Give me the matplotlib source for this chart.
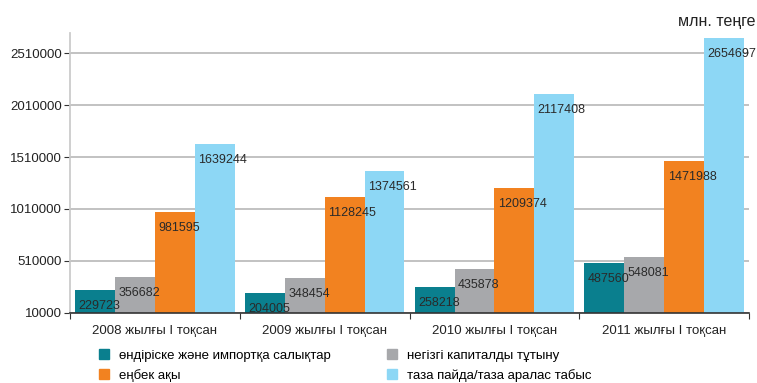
import numpy as np
import matplotlib.pyplot as plt
from matplotlib.patches import Patch

plt.rcParams['font.family'] = ['Liberation Sans', 'DejaVu Sans']

# данные
categories = ['2008 жылғы I тоқсан', '2009 жылғы I тоқсан',
              '2010 жылғы I тоқсан', '2011 жылғы I тоқсан']
series_names = ['өндіріске және импортқа салықтар', 'негізгі капиталды тұтыну',
                'еңбек ақы', 'таза пайда/таза аралас табыс']
taxes = [229723, 204005, 258218, 487560]
capital = [356682, 348454, 435878, 548081]
wages = [981595, 1128245, 1209374, 1471988]
profit = [1639244, 1374561, 2117408, 2654697]
yticks = [10000, 510000, 1010000, 1510000, 2010000, 2510000]

colors = ['#0a7f8e', '#a7a8ab', '#f28220', '#8dd7f5']
values = [taxes, capital, wages, profit]

fig = plt.figure(figsize=(7.57, 3.83), dpi=100)
ax = fig.add_axes([0.0925, 0.183, 0.897, 0.73])

x = np.arange(len(categories))
w = 0.235
base = 10000
for i, (vals, c) in enumerate(zip(values, colors)):
    pos = x + (i - 1.5) * w
    heights = np.array(vals) - base
    ax.bar(pos, heights, w, bottom=base, color=c, zorder=2)
    for p, v in zip(pos, vals):
        ax.annotate(str(v), (p - w / 2, v), xytext=(2.5, -11.5), textcoords='offset points',
                    ha='left', va='center', fontsize=9, color='#2a2a2a', zorder=3)

ax.set_xlim(-0.5, len(categories) - 0.5)
ax.set_ylim(base, 2700000)
ax.set_yticks(yticks)
ax.set_yticklabels([str(t) for t in yticks], fontsize=9.5, color='#222222')
ax.yaxis.grid(True, color='#bdbdbd', linewidth=1.3, zorder=0)
ax.set_axisbelow(True)

ax.set_xticks(np.arange(len(categories) + 1) - 0.5)
ax.set_xticklabels([])
ax.set_xticks(x, minor=True)
ax.set_xticklabels(categories, minor=True, fontsize=9.5, color='#222222')
ax.tick_params(axis='x', which='minor', length=0, pad=9)
ax.tick_params(axis='x', which='major', length=4, color='#333333')
ax.tick_params(axis='y', length=4, color='#333333', pad=2)

for s in ['top', 'right']:
    ax.spines[s].set_visible(False)
ax.spines['left'].set_color('#cccccc')
ax.spines['left'].set_linewidth(1.3)
ax.spines['bottom'].set_color('#333333')
ax.spines['bottom'].set_linewidth(1.2)

fig.text(0.998, 0.945, 'млн. теңге', ha='right', va='center', fontsize=11.5, color='#222222')

handles = [Patch(color=c) for c in colors]
order = [0, 2, 1, 3]
fig.legend([handles[i] for i in order], [series_names[i] for i in order],
           loc='lower left', bbox_to_anchor=(0.115, -0.028), ncol=2, frameon=False,
           fontsize=9.5, handlelength=0.75, handleheight=0.75, handletextpad=0.75,
           columnspacing=4.3, labelspacing=0.55)

fig.savefig('out.png', dpi=100)
